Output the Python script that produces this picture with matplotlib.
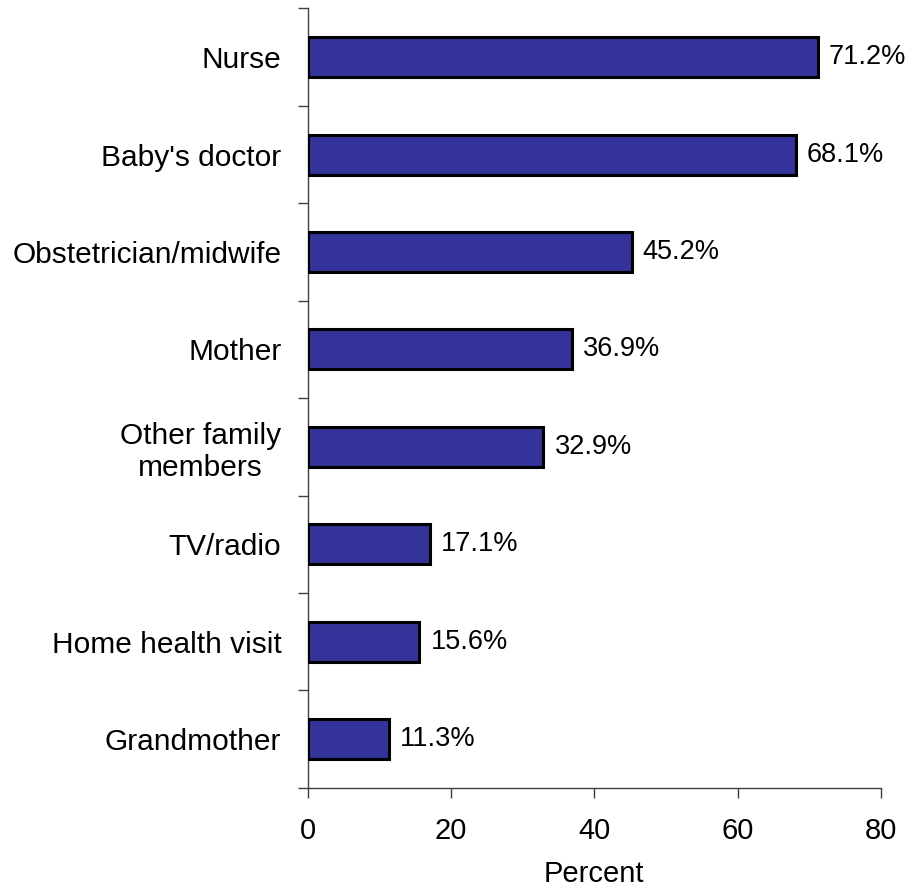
import numpy as np
import matplotlib.pyplot as plt
from matplotlib.ticker import FixedLocator

plt.rcParams['font.family'] = ['Liberation Sans', 'DejaVu Sans']

sources = ['Nurse', "Baby's doctor", 'Obstetrician/midwife', 'Mother',
           'Other family\nmembers', 'TV/radio', 'Home health visit', 'Grandmother']
percent = [71.2, 68.1, 45.2, 36.9, 32.9, 17.1, 15.6, 11.3]
xticks = [0, 20, 40, 60, 80]

fig = plt.figure(figsize=(9.13, 8.92), dpi=100)
ax = fig.add_axes([0.337, 0.1169, 0.628, 0.8736])

y = np.arange(len(sources))
ax.barh(y, percent, height=0.41, color='#333399', edgecolor='black', linewidth=2.2, zorder=3)

# value labels next to each bar
for yi, v in zip(y, percent):
    ax.annotate(f'{v}%', (v, yi), xytext=(8, 0), textcoords='offset points',
                va='center', ha='left', fontsize=19.5)

ax.set_xlim(0, 80)
ax.set_ylim(len(sources) - 0.5, -0.5)
ax.set_xticks(xticks)
ax.set_xticklabels([str(t) for t in xticks], fontsize=21)
ax.set_yticks(y)
ax.set_yticklabels(sources, fontsize=21.5, multialignment='center')
ax.yaxis.set_minor_locator(FixedLocator(np.arange(-0.5, len(sources), 1.0)))
ax.tick_params(axis='y', which='major', length=0, pad=19)
ax.tick_params(axis='y', which='minor', length=7.2, width=1, direction='out', color='#404040')
ax.tick_params(axis='x', length=7.2, width=1, direction='out', pad=14, color='#404040')
ax.set_xlabel('Percent', fontsize=21, labelpad=11)

for s in ['top', 'right']:
    ax.spines[s].set_visible(False)
for s in ['left', 'bottom']:
    ax.spines[s].set_linewidth(1)
    ax.spines[s].set_color('#404040')

fig.savefig('out.png', dpi=100)
